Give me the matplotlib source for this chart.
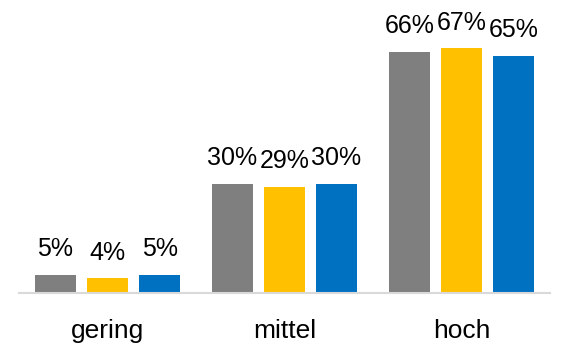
import matplotlib
matplotlib.use("Agg")
import matplotlib.pyplot as plt
import numpy as np

categories = ["gering", "mittel", "hoch"]
series1 = [5, 30, 66]
series2 = [4, 29, 67]
series3 = [5, 30, 65]
colors = ["#7F7F7F", "#FFC000", "#0070C0"]

plt.rcParams['font.family'] = ['Liberation Sans', 'DejaVu Sans']

fig = plt.figure(figsize=(5.62, 3.52), dpi=100)
ax = fig.add_axes([19/562, 59/352, 531/562, 292/352])

x = np.arange(len(categories))
width = 0.234
offset = 0.294
for i, (vals, c) in enumerate(zip([series1, series2, series3], colors)):
    pos = x + (i - 1) * offset
    bars = ax.bar(pos, vals, width=width, color=c, zorder=2)
    for b, v in zip(bars, vals):
        ax.annotate(f"{v}%", (b.get_x() + b.get_width() / 2, v),
                    xytext=(0, 10), textcoords="offset points",
                    ha="center", va="bottom", fontsize=18, color="black")

ax.set_xlim(-0.5, 2.5)
ax.set_ylim(0, 80)
ax.set_xticks(x)
ax.set_xticklabels(categories, fontsize=19)
ax.tick_params(axis='x', length=0, pad=18.5)
ax.set_yticks([])
for s in ["top", "right", "left"]:
    ax.spines[s].set_visible(False)
ax.spines["bottom"].set_color("#D9D9D9")
ax.spines["bottom"].set_linewidth(1.5)

fig.savefig("out.png", dpi=100)
